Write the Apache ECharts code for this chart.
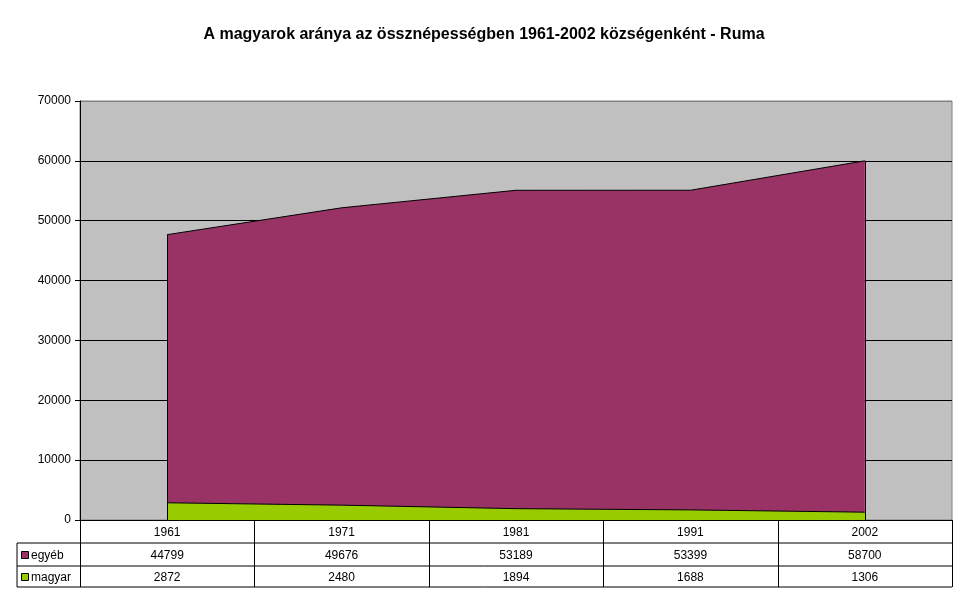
<!DOCTYPE html>
<html>
<head>
<meta charset="utf-8">
<title>Ruma</title>
<style type="text/css">
html,body{margin:0;padding:0;background:#fff;}
#main{width:968px;height:604px;}
</style>
</head>
<body>
<div id="main"></div>
<script src="https://cdn.jsdelivr.net/npm/echarts@6/dist/echarts.min.js"></script>
<script type="text/javascript">
var years = ['1961', '1971', '1981', '1991', '2002'];
var egyeb = [44799, 49676, 53189, 53399, 58700];
var magyar = [2872, 2480, 1894, 1688, 1306];
var seriesNames = ['egyéb', 'magyar'];
var seriesColors = ['#993366', '#99CC00'];

// plot area in pixels
var G = {left: 80, top: 101, width: 872, height: 419};
var rowH = [23, 23, 21];
var font = '"Liberation Sans", Arial, sans-serif';

var chart = echarts.init(document.getElementById('main'));

// data table under the plot
function tableGraphics() {
	var g = [];
	var x0 = G.left, x1 = G.left + G.width;
	var y0 = G.top + G.height;
	var colW = G.width / years.length;
	var y1 = y0 + rowH[0], y2 = y1 + rowH[1], y3 = y2 + rowH[2];
	var legL = 17;
	var ls = {stroke: '#000', lineWidth: 1};
	function line(xa, ya, xb, yb) {
		g.push({type: 'line', silent: true, shape: {x1: xa, y1: ya, x2: xb, y2: yb}, style: ls});
	}
	line(x0, y1, x1, y1); line(legL, y1, x0, y1);
	line(legL, y2, x1, y2);
	line(legL, y3, x1, y3);
	line(legL, y1, legL, y3);
	for (var i = 0; i <= years.length; i++) {
		var x = Math.round(x0 + colW * i) + 0.5;
		line(x, y0, x, y3);
	}
	var rows = [years, egyeb, magyar];
	var tops = [y0, y1, y2];
	for (var r = 0; r < rows.length; r++) {
		for (var c = 0; c < years.length; c++) {
			g.push({
				type: 'text', silent: true,
				x: x0 + colW * (c + 0.5), y: tops[r] + rowH[r] / 2 + 1,
				style: {text: String(rows[r][c]), fill: '#000', font: '12px ' + font, align: 'center', verticalAlign: 'middle'}
			});
		}
	}
	for (var s = 0; s < seriesNames.length; s++) {
		var ty = tops[s + 1] + rowH[s + 1] / 2;
		g.push({type: 'rect', silent: true, shape: {x: 21.5, y: Math.round(ty) - 3.5, width: 7, height: 7},
			style: {fill: seriesColors[s], stroke: '#000', lineWidth: 1}});
		g.push({type: 'text', silent: true, x: 31, y: ty + 1,
			style: {text: seriesNames[s], fill: '#000', font: '12px ' + font, align: 'left', verticalAlign: 'middle'}});
	}
	return g;
}

var totals = [];
for (var i = 0; i < years.length; i++) totals.push(egyeb[i] + magyar[i]);
var last = years.length - 1;

var option = {
	backgroundColor: '#fff',
	animation: false,
	title: {
		text: 'A magyarok aránya az össznépességben 1961-2002 községenként - Ruma',
		left: 'center', top: 22,
		textStyle: {fontFamily: font, fontSize: 16, fontWeight: 'bold', color: '#000'}
	},
	grid: {left: G.left, top: G.top, width: G.width, height: G.height, show: true,
		backgroundColor: '#C0C0C0', borderColor: '#808080', borderWidth: 1},
	xAxis: {
		type: 'category', data: years, boundaryGap: true,
		axisLine: {show: true, lineStyle: {color: '#000'}},
		axisTick: {show: false}, axisLabel: {show: false}, splitLine: {show: false}
	},
	yAxis: {
		type: 'value', min: 0, max: 70000, interval: 10000,
		axisLine: {show: true, lineStyle: {color: '#000'}},
		axisTick: {show: true, length: 5, lineStyle: {color: '#000'}},
		axisLabel: {color: '#000', fontFamily: font, fontSize: 12, margin: 9,
			formatter: function (v) { return String(v); }},
		splitLine: {show: true, lineStyle: {
			color: ['#000', '#000', '#000', '#000', '#000', '#000', '#000', '#808080'], width: 1}}
	},
	series: [
		{
			name: 'magyar', type: 'line', stack: 'all', data: magyar,
			symbol: 'none', itemStyle: {color: seriesColors[1]},
			lineStyle: {color: '#000', width: 1},
			areaStyle: {color: seriesColors[1], opacity: 1},
			markLine: {
				silent: true, symbol: 'none', label: {show: false},
				lineStyle: {color: '#000', width: 1, type: 'solid'},
				data: [
					[{coord: [years[0], 0]}, {coord: [years[0], totals[0]]}],
					[{coord: [years[last], 0]}, {coord: [years[last], totals[last]]}]
				]
			}
		},
		{
			name: 'egyéb', type: 'line', stack: 'all', data: egyeb,
			symbol: 'none', itemStyle: {color: seriesColors[0]},
			lineStyle: {color: '#000', width: 1},
			areaStyle: {color: seriesColors[0], opacity: 1}
		}
	],
	graphic: tableGraphics()
};
chart.setOption(option);
</script>
</body>
</html>
